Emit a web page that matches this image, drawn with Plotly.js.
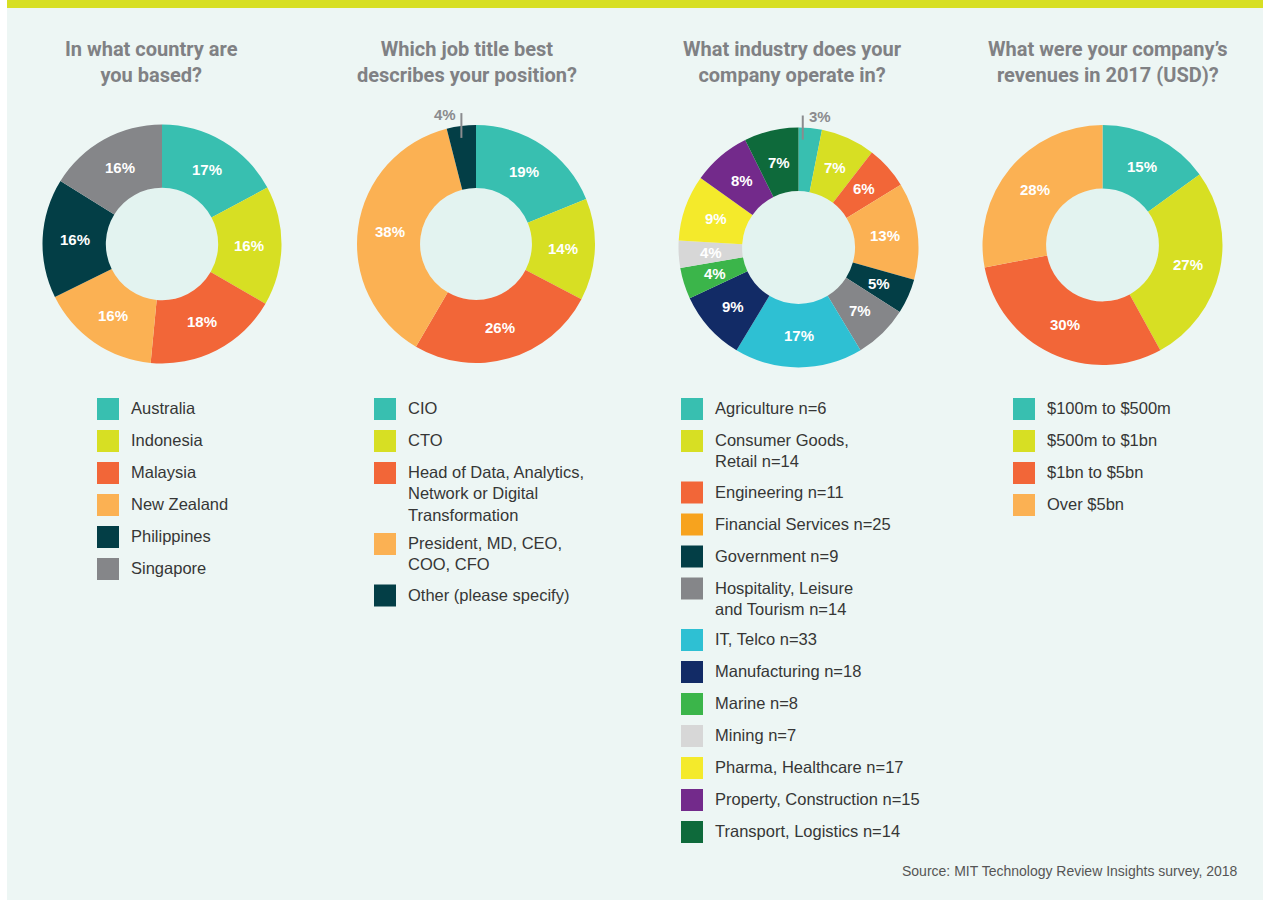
<!DOCTYPE html>
<html>
<head>
<meta charset="utf-8">
<script src="https://cdn.plot.ly/plotly-3.0.1.min.js"></script>
<style>
  html, body { margin: 0; padding: 0; background: #ffffff; }
  #chart { width: 1263px; height: 900px; }
</style>
</head>
<body>
<div id="chart"></div>
<script>
// ---------------- DATA ----------------
const countryTitle = "In what country are<br>you based?";
const countryLabels = ["Australia", "Indonesia", "Malaysia", "New Zealand", "Philippines", "Singapore"];
const countryShare = [17, 16, 18, 16, 16, 16];

const jobTitle = "Which job title best<br>describes your position?";
const jobLabels = ["CIO", "CTO", "Head of Data, Analytics,<br>Network or Digital<br>Transformation", "President, MD, CEO,<br>COO, CFO", "Other (please specify)"];
const jobShare = [19, 14, 26, 38, 4];

const industryTitle = "What industry does your<br>company operate in?";
const industryLabels = ["Agriculture", "Consumer Goods,<br>Retail", "Engineering", "Financial Services", "Government",
  "Hospitality, Leisure<br>and Tourism", "IT, Telco", "Manufacturing", "Marine", "Mining",
  "Pharma, Healthcare", "Property, Construction", "Transport, Logistics"];
const industryCount = [6, 14, 11, 25, 9, 14, 33, 18, 8, 7, 17, 15, 14];

const revenueTitle = "What were your company’s<br>revenues in 2017 (USD)?";
const revenueLabels = ["$100m to $500m", "$500m to $1bn", "$1bn to $5bn", "Over $5bn"];
const revenueShare = [15, 27, 30, 28];

const sourceText = "Source: MIT Technology Review Insights survey, 2018";

// ---------------- STYLE ----------------
const W = 1263, H = 900;
const TEAL = "#38BFB0", LIME = "#D7DF23", RED = "#F26638", ORANGE = "#FBB153",
      DARK = "#033E46", GREY = "#858689";
const countryColors = [TEAL, LIME, RED, ORANGE, DARK, GREY];
const jobColors = [TEAL, LIME, RED, ORANGE, DARK];
const industryColors = [TEAL, LIME, RED, ORANGE, DARK, GREY, "#2EC0D3", "#122B66", "#3BB54A",
  "#D7D7D7", "#F4EA2B", "#732A8B", "#0E6A3B"];
const industryLegendColors = industryColors.map((c, i) => i === 3 ? "#F7A31E" : c);
const revenueColors = [TEAL, LIME, RED, ORANGE];

const px = x => x / W;
const py = y => 1 - y / H;

// chart geometry (pixels)
const charts = [
  { title: countryTitle, labels: countryLabels, values: countryShare, colors: countryColors,
    legendColors: countryColors, legendText: countryLabels,
    cx: 162, cy: 244, R: 119.5, titleX: 151, legendX: 97, callout: null },
  { title: jobTitle, labels: jobLabels, values: jobShare, colors: jobColors,
    legendColors: jobColors, legendText: jobLabels,
    cx: 476, cy: 244, R: 119, titleX: 467, legendX: 374, callout: { idx: 4, side: "left", frac: 0.45 } },
  { title: industryTitle, labels: industryLabels, values: industryCount, colors: industryColors,
    legendColors: industryLegendColors,
    legendText: industryLabels.map((l, i) => l + " n=" + industryCount[i]),
    cx: 798.5, cy: 247.5, R: 120, titleX: 792, legendX: 681, callout: { idx: 0, side: "right", frac: 0.2 } },
  { title: revenueTitle, labels: revenueLabels, values: revenueShare, colors: revenueColors,
    legendColors: revenueColors, legendText: revenueLabels,
    cx: 1102.5, cy: 245, R: 120, titleX: 1108, legendX: 1013, callout: null }
];
const HOLE = 0.47;
const LABEL_R = 0.73;
const PCT_FONT = "'Liberation Sans', Arial, sans-serif";

const traces = [];
const shapes = [];
const annotations = [];

// background panel & top bar
shapes.push({ type: "rect", xref: "paper", yref: "paper", layer: "below",
  x0: px(7), x1: 1, y0: 0, y1: py(8), line: { width: 0 }, fillcolor: "#EDF6F4" });
shapes.push({ type: "rect", xref: "paper", yref: "paper", layer: "below",
  x0: px(7), x1: 1, y0: py(8), y1: 1, line: { width: 0 }, fillcolor: "#D7DF23" });

charts.forEach((c, k) => {
  traces.push({
    type: "pie",
    labels: c.labels,
    values: c.values,
    sort: false,
    direction: "clockwise",
    rotation: 0,
    hole: HOLE,
    textinfo: "none",
    hoverinfo: "label+percent",
    showlegend: false,
    marker: { colors: c.colors, line: { width: 0 } },
    domain: { x: [px(c.cx - c.R), px(c.cx + c.R)], y: [py(c.cy + c.R), py(c.cy - c.R)] }
  });

  // hole tint
  const rIn = c.R * HOLE;
  shapes.push({ type: "circle", xref: "paper", yref: "paper", layer: "below",
    x0: px(c.cx - rIn), x1: px(c.cx + rIn), y0: py(c.cy + rIn), y1: py(c.cy - rIn),
    line: { width: 0 }, fillcolor: "#E3F3F0" });

  // percent labels
  const total = c.values.reduce((a, b) => a + b, 0);
  let cum = 0;
  c.values.forEach((v, i) => {
    const start = cum / total * 2 * Math.PI;
    const end = (cum + v) / total * 2 * Math.PI;
    cum += v;
    const pct = Math.round(v / total * 100) + "%";
    if (c.callout && c.callout.idx === i) {
      const a = start + (end - start) * c.callout.frac;
      const lx = c.cx + 0.9 * c.R * Math.sin(a);
      const yb = c.cy - 0.9 * c.R * Math.cos(a);
      const yt = c.cy - 1.1 * c.R;
      shapes.push({ type: "line", xref: "paper", yref: "paper",
        x0: px(lx), x1: px(lx), y0: py(yb), y1: py(yt), line: { color: "#8A8B8E", width: 2 } });
      annotations.push({ xref: "paper", yref: "paper", showarrow: false,
        x: px(c.callout.side === "left" ? lx - 3 : lx + 4), y: py(yt + 1),
        xanchor: c.callout.side === "left" ? "right" : "left", yanchor: "middle",
        text: "<b>" + pct + "</b>",
        font: { family: PCT_FONT, size: 15, color: "#8A8B8E" } });
    } else {
      const a = (start + end) / 2;
      annotations.push({ xref: "paper", yref: "paper", showarrow: false,
        x: px(c.cx + LABEL_R * c.R * Math.sin(a)), y: py(c.cy - LABEL_R * c.R * Math.cos(a)),
        xanchor: "center", yanchor: "middle",
        text: "<b>" + pct + "</b>",
        font: { family: PCT_FONT, size: 15, color: "#ffffff" } });
    }
  });

  // title
  annotations.push({ xref: "paper", yref: "paper", showarrow: false,
    x: px(c.titleX), y: py(61.5), xanchor: "center", yanchor: "middle", align: "center",
    text: "<b>" + c.title + "</b>",
    font: { family: "Roboto, 'Liberation Sans', sans-serif", size: 20, color: "#808184" } });

  // legend
  let rowY = 409;
  c.legendText.forEach((t, i) => {
    shapes.push({ type: "rect", xref: "paper", yref: "paper",
      x0: px(c.legendX), x1: px(c.legendX + 22), y0: py(rowY + 11), y1: py(rowY - 11),
      line: { width: 0 }, fillcolor: c.legendColors[i] });
    annotations.push({ xref: "paper", yref: "paper", showarrow: false,
      x: px(c.legendX + 32), y: py(rowY - 12), xanchor: "left", yanchor: "top", align: "left",
      text: t,
      font: { family: "'Liberation Sans', Arial, sans-serif", size: 16.5, color: "#363636" } });
    const lines = t.split("<br>").length;
    rowY += 32 + (lines - 1) * 19.5;
  });
});

// source
annotations.push({ xref: "paper", yref: "paper", showarrow: false,
  x: px(1240), y: py(871), xanchor: "right", yanchor: "middle",
  text: sourceText,
  font: { family: "'Liberation Sans', Arial, sans-serif", size: 14, color: "#555555" } });

const layout = {
  width: W, height: H,
  margin: { l: 0, r: 0, t: 0, b: 0 },
  paper_bgcolor: "#ffffff",
  plot_bgcolor: "rgba(0,0,0,0)",
  showlegend: false,
  shapes: shapes,
  annotations: annotations
};

Plotly.newPlot("chart", traces, layout, { displayModeBar: false });
</script>
</body>
</html>
